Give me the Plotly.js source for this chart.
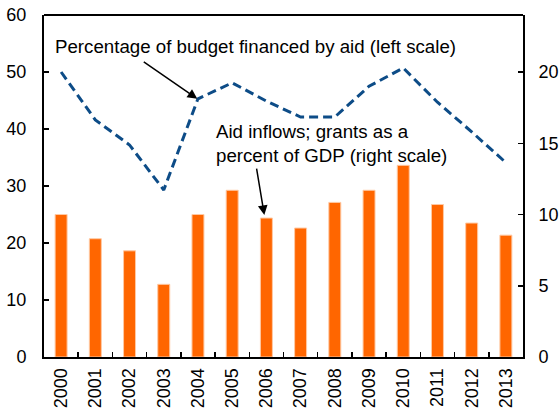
<!DOCTYPE html>
<html>
<head>
<meta charset="utf-8">
<script src="https://cdn.plot.ly/plotly-3.0.1.min.js"></script>
<style>html,body{margin:0;padding:0;background:#fff}#chart{width:560px;height:409px}</style>
</head>
<body>
<div id="chart"></div>
<script>
const years = ["2000","2001","2002","2003","2004","2005","2006","2007","2008","2009","2010","2011","2012","2013"];
const grantsPctGDP = [10.0, 8.3, 7.45, 5.1, 10.0, 11.7, 9.75, 9.05, 10.85, 11.7, 13.45, 10.7, 9.4, 8.55];
const budgetFinancedByAid = [50.0, 41.6, 37.2, 29.3, 45.3, 48.1, 44.9, 42.1, 42.1, 47.5, 50.7, 44.7, 39.5, 34.1];
const leftTicks = [0,10,20,30,40,50,60];
const rightTicks = [0,5,10,15,20];

const font = {family: "Liberation Sans, Arial, sans-serif", size: 18, color: "#000"};
const annFont = {family: "Liberation Sans, Arial, sans-serif", size: 18.7, color: "#000"};

const traces = [
  {
    type: "bar", x: years, y: grantsPctGDP, yaxis: "y2",
    marker: {color: "#FF6600", line: {color: "#FFC9A3", width: 1}},
    name: "Aid inflows"
  },
  {
    type: "scatter", mode: "lines", x: years, y: budgetFinancedByAid, yaxis: "y",
    line: {color: "#0D4C87", width: 3, dash: "9px,5px"},
    name: "Budget financed by aid"
  }
];

const layout = {
  width: 560, height: 409,
  margin: {l: 44, r: 37, t: 15, b: 52},
  paper_bgcolor: "#fff", plot_bgcolor: "#fff",
  showlegend: false,
  bargap: 0.65,
  font: font,
  xaxis: {
    type: "category", tickangle: -90, tickson: "boundaries",
    ticks: "inside", ticklen: 5, tickwidth: 1.5, tickcolor: "#000",
    showline: true, linecolor: "#000", linewidth: 2,
    showgrid: false, tickfont: font, automargin: false, ticklabelstandoff: 2
  },
  yaxis: {
    range: [0, 60], tickvals: leftTicks, ticktext: leftTicks.map(String),
    ticks: "inside", ticklen: 5, tickwidth: 1.5, tickcolor: "#000",
    showline: true, linecolor: "#000", linewidth: 2,
    showgrid: false, zeroline: false, tickfont: font, automargin: false, ticklabelstandoff: 12
  },
  yaxis2: {
    range: [0, 24], tickvals: rightTicks, ticktext: rightTicks.map(String),
    overlaying: "y", side: "right",
    ticks: "inside", ticklen: 5, tickwidth: 1.5, tickcolor: "#000",
    showline: true, linecolor: "#000", linewidth: 2,
    showgrid: false, zeroline: false, tickfont: font, automargin: false, ticklabelstandoff: 10
  },
  shapes: [
    {type: "line", xref: "paper", yref: "paper", x0: 0, x1: 1, y0: 1, y1: 1, line: {color: "#000", width: 2}}
  ],
  annotations: [
    {
      xref: "paper", yref: "paper", x: 0.019, y: 0.909, xanchor: "left", yanchor: "middle",
      text: "Percentage of budget financed by aid (left scale)", showarrow: false,
      font: annFont
    },
    {
      xref: "x", yref: "y", x: 3.98, y: 45.3, ax: -55, ay: -38,
      text: "", showarrow: true, arrowhead: 2, arrowsize: 1.3, arrowwidth: 1.5, arrowcolor: "#000"
    },
    {
      xref: "paper", yref: "paper", x: 0.355, y: 0.623, xanchor: "left", yanchor: "middle", align: "left",
      text: "Aid inflows; grants as a<br>percent of GDP (right scale)", showarrow: false,
      font: annFont
    },
    {
      xref: "x", yref: "y", x: 5.94, y: 24.9, ax: -8, ay: -48,
      text: "", showarrow: true, arrowhead: 2, arrowsize: 1.3, arrowwidth: 1.5, arrowcolor: "#000"
    }
  ]
};

Plotly.newPlot("chart", traces, layout, {displayModeBar: false, staticPlot: true});
</script>
</body>
</html>
